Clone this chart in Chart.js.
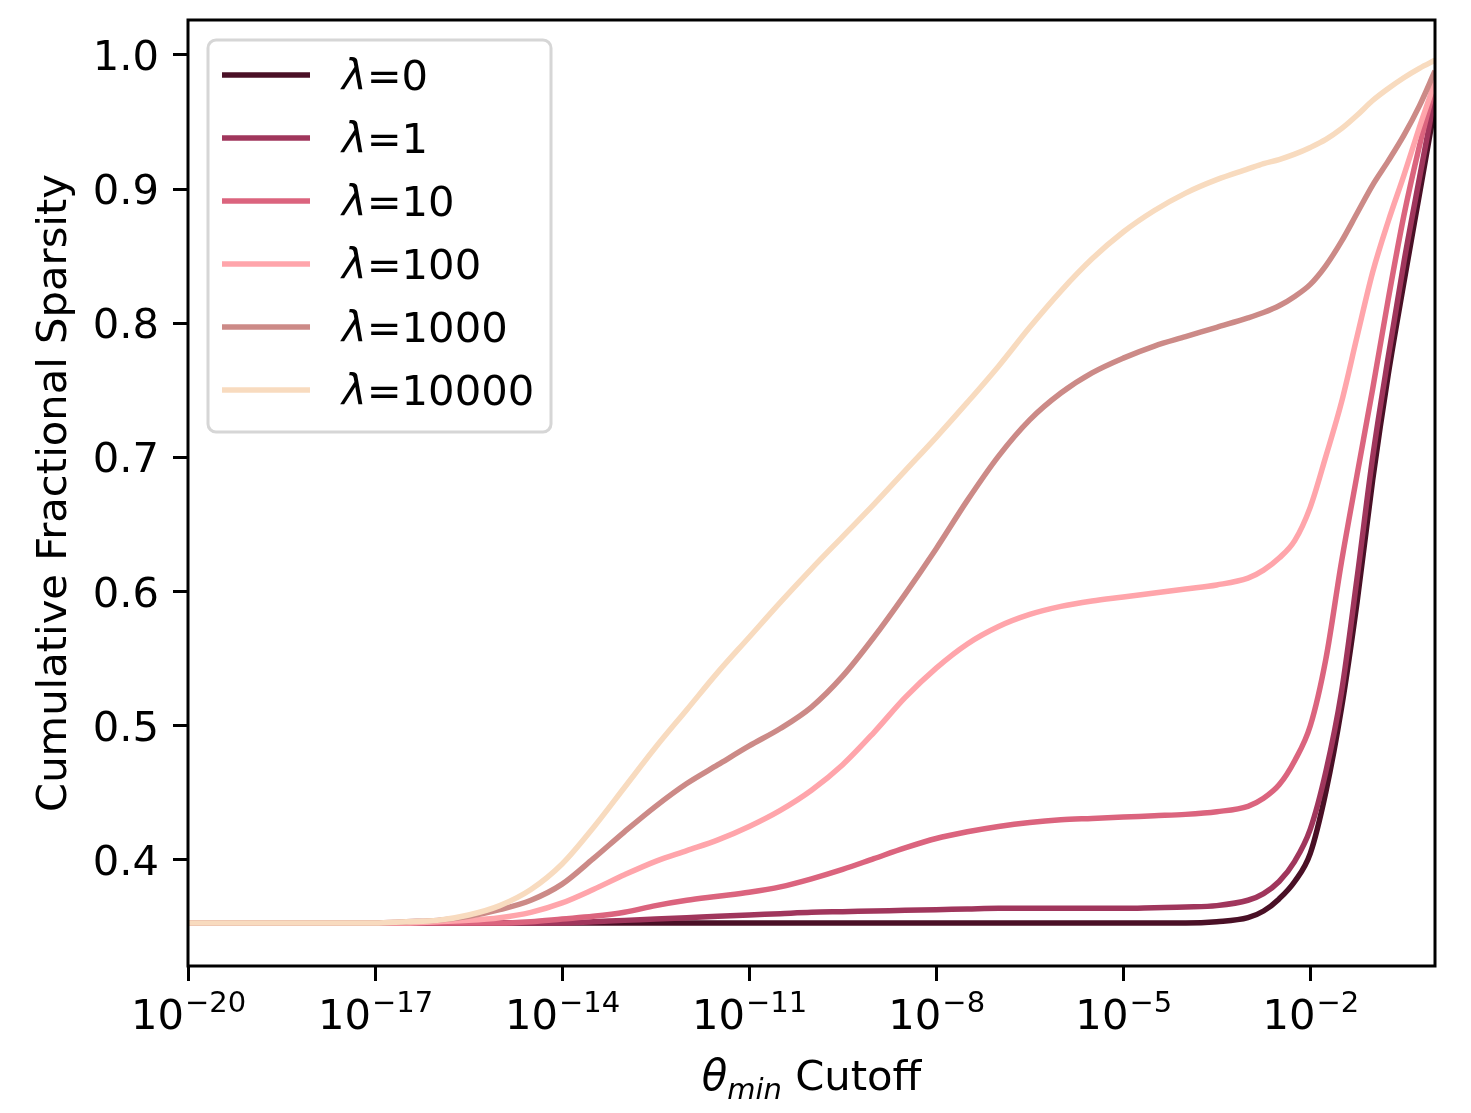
<!DOCTYPE html>
<html>
<head>
<meta charset="utf-8">
<script src="https://cdn.jsdelivr.net/npm/chart.js@4.4.1/dist/chart.umd.min.js"></script>
<style>
  html, body { margin: 0; padding: 0; background: #fff; }
  canvas { display: block; }
</style>
</head>
<body>
<canvas id="grafico" width="1471" height="1113"></canvas>
<script>
// valores de theta_min (eixo x, escala log)
const thetas = [1e-20, 1e-19, 1e-18, 1e-17, 3.16e-17, 1e-16, 3.16e-16, 1e-15, 3.16e-15, 1e-14,
  3.16e-14, 1e-13, 3.16e-13, 1e-12, 3.16e-12, 1e-11, 3.16e-11, 1e-10, 3.16e-10, 1e-9,
  3.16e-9, 1e-8, 3.16e-8, 1e-7, 3.16e-7, 1e-6, 3.16e-6, 1e-5, 3.16e-5, 1e-4,
  3.16e-4, 1e-3, 1.78e-3, 3.16e-3, 5.62e-3, 1e-2, 1.78e-2, 3.16e-2, 5.62e-2, 0.1,
  0.178, 0.316, 0.562, 1];

// esparsidade acumulada por lambda
const lambda0 = [0.353, 0.353, 0.353, 0.353, 0.353, 0.353, 0.353, 0.353, 0.353, 0.353,
  0.353, 0.353, 0.353, 0.353, 0.353, 0.353, 0.353, 0.353, 0.353, 0.353,
  0.353, 0.353, 0.353, 0.353, 0.353, 0.353, 0.353, 0.353, 0.353, 0.353,
  0.354, 0.357, 0.362, 0.371, 0.384, 0.405, 0.451, 0.513, 0.592, 0.683,
  0.762, 0.830, 0.896, 0.962];
const lambda1 = [0.353, 0.353, 0.353, 0.353, 0.353, 0.353, 0.353, 0.353, 0.353, 0.353,
  0.354, 0.355, 0.356, 0.357, 0.358, 0.359, 0.360, 0.361, 0.3615, 0.362,
  0.3625, 0.363, 0.3635, 0.364, 0.364, 0.364, 0.364, 0.364, 0.3645, 0.365,
  0.366, 0.370, 0.375, 0.384, 0.399, 0.423, 0.466, 0.525, 0.610, 0.700,
  0.775, 0.845, 0.908, 0.970];
const lambda10 = [0.353, 0.353, 0.353, 0.353, 0.353, 0.353, 0.353, 0.353, 0.354, 0.356,
  0.358, 0.361, 0.366, 0.370, 0.373, 0.376, 0.380, 0.386, 0.393, 0.401,
  0.409, 0.416, 0.421, 0.425, 0.428, 0.430, 0.431, 0.432, 0.433, 0.434,
  0.436, 0.440, 0.446, 0.456, 0.474, 0.500, 0.550, 0.622, 0.687, 0.751,
  0.818, 0.880, 0.932, 0.978];
const lambda100 = [0.353, 0.353, 0.353, 0.353, 0.353, 0.354, 0.355, 0.357, 0.361, 0.368,
  0.378, 0.389, 0.399, 0.407, 0.415, 0.425, 0.437, 0.452, 0.471, 0.495,
  0.521, 0.543, 0.561, 0.574, 0.583, 0.589, 0.593, 0.596, 0.599, 0.602,
  0.605, 0.610, 0.616, 0.625, 0.638, 0.663, 0.701, 0.741, 0.790, 0.838,
  0.876, 0.910, 0.946, 0.980];
const lambda1000 = [0.353, 0.353, 0.353, 0.353, 0.354, 0.355, 0.358, 0.363, 0.370, 0.382,
  0.401, 0.421, 0.440, 0.457, 0.471, 0.485, 0.498, 0.514, 0.537, 0.566,
  0.598, 0.632, 0.668, 0.701, 0.728, 0.748, 0.763, 0.774, 0.783, 0.790,
  0.797, 0.804, 0.808, 0.813, 0.820, 0.829, 0.843, 0.861, 0.882, 0.903,
  0.921, 0.940, 0.962, 0.988];
const lambda10000 = [0.353, 0.353, 0.353, 0.353, 0.354, 0.355, 0.359, 0.366, 0.378, 0.397,
  0.424, 0.454, 0.484, 0.512, 0.540, 0.566, 0.592, 0.617, 0.641, 0.665,
  0.690, 0.715, 0.741, 0.768, 0.797, 0.824, 0.848, 0.868, 0.884, 0.897,
  0.907, 0.915, 0.919, 0.922, 0.926, 0.931, 0.937, 0.945, 0.955, 0.966,
  0.975, 0.983, 0.990, 0.996];

const series = [lambda0, lambda1, lambda10, lambda100, lambda1000, lambda10000];
const rotulos = ['λ=0', 'λ=1', 'λ=10', 'λ=100', 'λ=1000', 'λ=10000'];
const cores = ['#4a1026', '#a0365c', '#db647e', '#ffa5ab', '#cc8a87', '#f8dbbf'];

// ticks dos eixos
const xTicks = [1e-20, 1e-17, 1e-14, 1e-11, 1e-8, 1e-5, 1e-2];
const xTickExpoentes = ['−20', '−17', '−14', '−11', '−8', '−5', '−2'];
const yTicks = [0.4, 0.5, 0.6, 0.7, 0.8, 0.9, 1.0];
const yTickRotulos = ['0.4', '0.5', '0.6', '0.7', '0.8', '0.9', '1.0'];

const FONTE = '"DejaVu Sans", sans-serif';

// desenha moldura, rotulos, titulos e legenda por cima do grafico
const desenhoExtra = {
  id: 'desenhoExtra',
  afterDraw(chart) {
    const ctx = chart.ctx;
    const area = chart.chartArea;
    const sx = chart.scales.x;
    const sy = chart.scales.y;
    ctx.save();

    // moldura do eixo
    ctx.strokeStyle = '#000';
    ctx.lineWidth = 3;
    ctx.strokeRect(area.left, area.top, area.right - area.left, area.bottom - area.top);

    // rotulos do eixo y
    ctx.fillStyle = '#000';
    ctx.font = '41.7px ' + FONTE;
    ctx.textAlign = 'right';
    ctx.textBaseline = 'alphabetic';
    yTicks.forEach((v, i) => {
      ctx.fillText(yTickRotulos[i], area.left - 29, sy.getPixelForValue(v) + 15);
    });

    // rotulos do eixo x: 10 com expoente
    ctx.textAlign = 'left';
    xTicks.forEach((v, i) => {
      const px = sx.getPixelForValue(v);
      ctx.font = '41.7px ' + FONTE;
      const wBase = ctx.measureText('10').width;
      ctx.font = '29px ' + FONTE;
      const wExp = ctx.measureText(xTickExpoentes[i]).width;
      const x0 = px - (wBase + wExp) / 2;
      ctx.font = '41.7px ' + FONTE;
      ctx.fillText('10', x0, area.bottom + 63);
      ctx.font = '29px ' + FONTE;
      ctx.fillText(xTickExpoentes[i], x0 + wBase + 1, area.bottom + 46);
    });

    // titulo do eixo x: theta_min Cutoff
    const baseX = area.bottom + 124;
    ctx.font = 'italic 41.7px ' + FONTE;
    const wTheta = ctx.measureText('θ').width;
    ctx.font = 'italic 29px ' + FONTE;
    const wMin = ctx.measureText('min').width;
    ctx.font = '41.7px ' + FONTE;
    const wCut = ctx.measureText(' Cutoff').width;
    let xt = (area.left + area.right) / 2 - (wTheta + wMin + wCut) / 2;
    ctx.font = 'italic 41.7px ' + FONTE;
    ctx.fillText('θ', xt, baseX);
    xt += wTheta;
    ctx.font = 'italic 29px ' + FONTE;
    ctx.fillText('min', xt, baseX + 9);
    xt += wMin;
    ctx.font = '41.7px ' + FONTE;
    ctx.fillText(' Cutoff', xt, baseX);

    // titulo do eixo y
    ctx.save();
    ctx.translate(66, (area.top + area.bottom) / 2);
    ctx.rotate(-Math.PI / 2);
    ctx.textAlign = 'center';
    ctx.fillText('Cumulative Fractional Sparsity', 0, 0);
    ctx.restore();

    // legenda
    const lx = area.left + 20, ly = area.top + 20, lw = 343, lh = 392;
    ctx.beginPath();
    ctx.roundRect(lx, ly, lw, lh, 8);
    ctx.fillStyle = 'rgba(255,255,255,0.8)';
    ctx.fill();
    ctx.strokeStyle = '#d6d6d6';
    ctx.lineWidth = 3;
    ctx.stroke();
    chart.data.datasets.forEach((ds, i) => {
      const yy = ly + 35 + i * 63;
      ctx.strokeStyle = ds.borderColor;
      ctx.lineWidth = ds.borderWidth;
      ctx.beginPath();
      ctx.moveTo(lx + 14, yy);
      ctx.lineTo(lx + 102, yy);
      ctx.stroke();
      ctx.fillStyle = '#000';
      ctx.textAlign = 'left';
      ctx.font = 'italic 41.7px ' + FONTE;
      const tx = lx + 134;
      ctx.fillText(ds.label.charAt(0), tx, yy + 15);
      const wl = ctx.measureText(ds.label.charAt(0)).width;
      ctx.font = '41.7px ' + FONTE;
      ctx.fillText(ds.label.slice(1), tx + wl, yy + 15);
    });

    ctx.restore();
  }
};

const datasets = series.map((valores, i) => ({
  label: rotulos[i],
  data: thetas.map((t, j) => ({ x: t, y: valores[j] })),
  borderColor: cores[i],
  backgroundColor: cores[i],
  borderWidth: 5.5,
  pointRadius: 0,
  fill: false,
  cubicInterpolationMode: 'monotone',
  order: series.length - i
}));

new Chart(document.getElementById('grafico'), {
  type: 'line',
  data: { datasets: datasets },
  options: {
    responsive: false,
    animation: false,
    devicePixelRatio: 1,
    layout: { padding: { left: 173, right: 36, top: 20, bottom: 132 } },
    plugins: { legend: { display: false }, tooltip: { enabled: false } },
    scales: {
      x: {
        type: 'logarithmic',
        min: 1e-20,
        max: 1,
        afterBuildTicks: (eixo) => { eixo.ticks = xTicks.map(v => ({ value: v })); },
        ticks: { display: false },
        border: { display: false },
        grid: { display: true, drawOnChartArea: false, drawTicks: true, tickLength: 15, tickWidth: 3, tickColor: '#000' }
      },
      y: {
        type: 'linear',
        min: 0.321,
        max: 1.026,
        afterBuildTicks: (eixo) => { eixo.ticks = yTicks.map(v => ({ value: v })); },
        ticks: { display: false },
        border: { display: false },
        grid: { display: true, drawOnChartArea: false, drawTicks: true, tickLength: 15, tickWidth: 3, tickColor: '#000' }
      }
    }
  },
  plugins: [desenhoExtra]
});
</script>
</body>
</html>
